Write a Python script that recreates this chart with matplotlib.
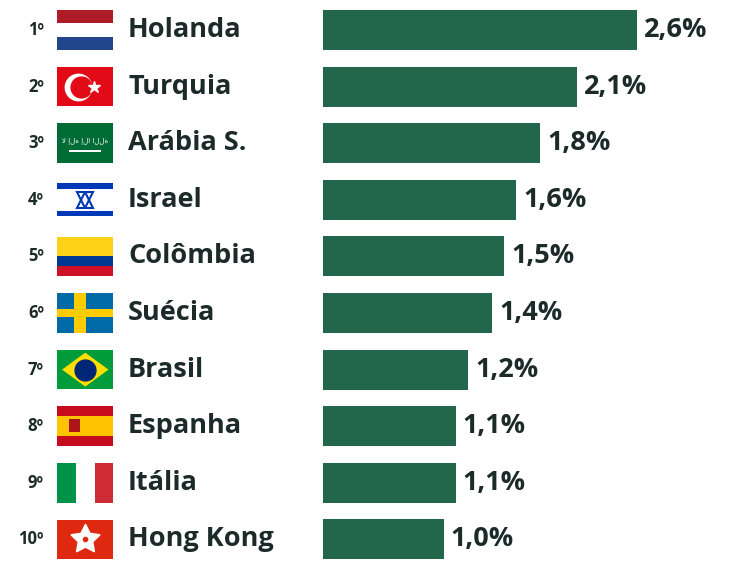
import matplotlib
matplotlib.use("Agg")
import matplotlib.pyplot as plt
from matplotlib.patches import Rectangle, Polygon

ranks = ["1º","2º","3º","4º","5º","6º","7º","8º","9º","10º"]
countries = ["Holanda","Turquia","Arábia S.","Israel","Colômbia","Suécia","Brasil","Espanha","Itália","Hong Kong"]
values = [2.6, 2.1, 1.8, 1.6, 1.5, 1.4, 1.2, 1.1, 1.1, 1.0]
labels = ["2,6%","2,1%","1,8%","1,6%","1,5%","1,4%","1,2%","1,1%","1,1%","1,0%"]

plt.rcParams['font.family'] = ['Open Sans', 'DejaVu Sans']
fig = plt.figure(figsize=(7.51, 5.67), dpi=100)
ax = fig.add_axes([0, 0, 1, 1])
px = 120.8
ax.set_xlim(-323/px, (751-323)/px)
ax.set_ylim((567-30)/56.6, -30/56.6)
ax.axis('off')
dark = '#1c2b28'
ax.barh(range(len(values)), values, height=0.71, color='#22674b')

fx0, fw = -2.20, 0.464
fh = 0.70
def rect(x, y, w, h, c):
    ax.add_patch(Rectangle((x, y), w, h, color=c, lw=0))

for i, (r, c, v, l) in enumerate(zip(ranks, countries, values, labels)):
    ax.text(-2.31, i, r, ha='right', va='center', fontsize=12, fontweight='bold', color=dark)
    ax.text(-1.614, i, c, ha='left', va='center', fontsize=19.5, fontweight='bold', color=dark)
    ax.text(v + 7/px, i, l, ha='left', va='center', fontsize=19.5, fontweight='bold', color=dark)
    y0 = i - fh/2
    cx, cy = fx0 + fw/2, i
    if c == "Holanda":
        for k, col in enumerate(['#ae1c28', 'white', '#21468b']):
            rect(fx0, y0 + k*fh/3, fw, fh/3, col)
    elif c == "Turquia":
        rect(fx0, y0, fw, fh, '#e30a17')
        ax.plot(cx - 0.06, cy, 'o', ms=19, color='white')
        ax.plot(cx - 0.035, cy, 'o', ms=15, color='#e30a17')
        ax.plot(cx + 0.07, cy, '*', ms=9, color='white')
    elif c == "Arábia S.":
        rect(fx0, y0, fw, fh, '#006c35')
        rect(fx0 + 0.1, cy + 0.12, fw - 0.2, 0.03, 'white')
        ax.text(cx, cy - 0.05, "ﻻ إله إلا الله", ha='center', va='center', fontsize=5, color='white', family='DejaVu Sans')
    elif c == "Israel":
        rect(fx0, y0, fw, fh, 'white')
        rect(fx0, y0 + 0.06, fw, 0.1, '#0038b8')
        rect(fx0, y0 + fh - 0.16, fw, 0.1, '#0038b8')
        ax.plot(cx, cy, '^', ms=12, mfc='none', mec='#0038b8', mew=1.5)
        ax.plot(cx, cy, 'v', ms=12, mfc='none', mec='#0038b8', mew=1.5)
    elif c == "Colômbia":
        rect(fx0, y0, fw, fh/2, '#fcd116')
        rect(fx0, y0 + fh/2, fw, fh/4, '#003893')
        rect(fx0, y0 + 3*fh/4, fw, fh/4, '#ce1126')
    elif c == "Suécia":
        rect(fx0, y0, fw, fh, '#006aa7')
        rect(fx0, cy - 0.07, fw, 0.14, '#fecc00')
        rect(fx0 + 0.14, y0, 0.1, fh, '#fecc00')
    elif c == "Brasil":
        rect(fx0, y0, fw, fh, '#009c3b')
        ax.add_patch(Polygon([(fx0+0.04, cy), (cx, y0+0.05), (fx0+fw-0.04, cy), (cx, y0+fh-0.05)], color='#ffdf00', lw=0))
        ax.plot(cx, cy, 'o', ms=15, color='#002776')
    elif c == "Espanha":
        rect(fx0, y0, fw, fh, '#c60b1e')
        rect(fx0, y0 + fh/4, fw, fh/2, '#ffc400')
        rect(fx0 + 0.1, cy - 0.12, 0.09, 0.22, '#ad1519')
    elif c == "Itália":
        for k, col in enumerate(['#009246', 'white', '#ce2b37']):
            rect(fx0 + k*fw/3, y0, fw/3, fh, col)
    elif c == "Hong Kong":
        rect(fx0, y0, fw, fh, '#de2910')
        ax.plot(cx, cy, marker=(5, 1, 0), ms=22, color='white')
        ax.plot(cx, cy, 'o', ms=3, color='#de2910')
fig.savefig('out.png', dpi=100)
